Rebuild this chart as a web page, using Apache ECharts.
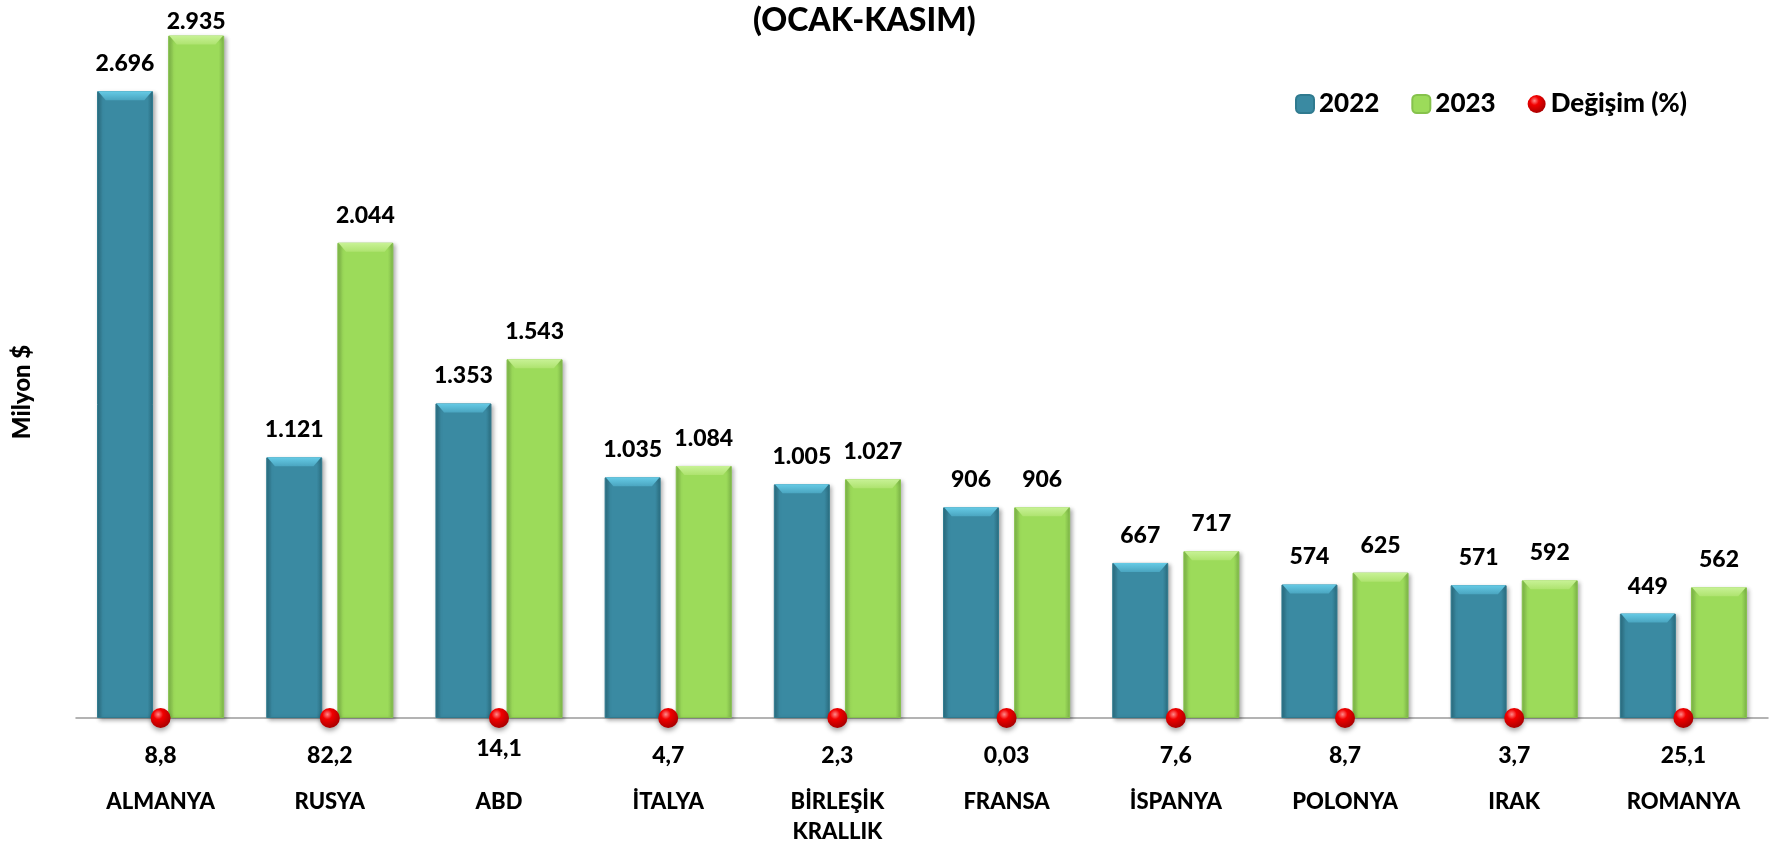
<!DOCTYPE html>
<html><head><meta charset="utf-8">
<script src="https://cdn.jsdelivr.net/npm/echarts@6/dist/echarts.min.js"></script>
<style>html,body{margin:0;padding:0;background:#fff}#c{width:1785px;height:848px}</style>
</head><body><div id="c"></div>
<script>
const categories = ['ALMANYA','RUSYA','ABD','İTALYA','BİRLEŞİK\nKRALLIK','FRANSA','İSPANYA','POLONYA','IRAK','ROMANYA'];
const values2022 = [2696,1121,1353,1035,1005,906,667,574,571,449];
const values2023 = [2935,2044,1543,1084,1027,906,717,625,592,562];
const changeLabels = ['8,8','82,2','14,1','4,7','2,3','0,03','7,6','8,7','3,7','25,1'];
const dotLevel = [0,0,0,0,0,0,0,0,0,0];
const seriesNames = ['2022','2023','Değişim (%)'];

const FONT = 'Lato';
const W = 900;
const fmt = v => String(v).replace(/\B(?=(\d{3})+(?!\d))/g, '.');

function barGrad(edge, base) {
  return new echarts.graphic.LinearGradient(0,0,1,0,[
    {offset:0,color:edge},{offset:0.1,color:base},{offset:0.9,color:base},{offset:1,color:edge}
  ]);
}
function vGrad(top, bottom) {
  return new echarts.graphic.LinearGradient(0,0,0,1,[{offset:0,color:top},{offset:1,color:bottom}]);
}
const dotColor = new echarts.graphic.RadialGradient(0.38,0.32,0.7,[
  {offset:0,color:'#ff8a8a'},{offset:0.35,color:'#f20000'},{offset:1,color:'#a80000'}
]);

const labelStyle = {show:true, position:'top', distance:16, fontFamily:FONT, fontWeight:W, fontSize:23, color:'#000', formatter:p=>fmt(p.value)};

function barItems(vals, shiftIdx, shiftDist) {
  return vals.map((v,i) => i === shiftIdx ? {value:v, label:{distance:shiftDist}} : v);
}
const bevelPath = 'path://M0,0 L56,0 L48,9 L8,9 Z';
function bevel(name, vals, color) {
  return {name:name, type:'pictorialBar', data:vals, barWidth:56, barGap:'27%', z:4,
    symbol:bevelPath, symbolSize:[54,9], symbolPosition:'end', symbolOffset:[0,0],
    itemStyle:{color:color}, label:{show:false}, silent:true};
}

const chart = echarts.init(document.getElementById('c'));
chart.setOption({
  animation:false,
  backgroundColor:'#fff',
  title:{text:'(OCAK-KASIM)', left:748, top:0, textStyle:{fontFamily:FONT, fontWeight:W, fontSize:32, color:'#000'}},
  legend:{
    data:seriesNames, left:1290, top:86, itemWidth:18, itemHeight:18, itemGap:32,
    textStyle:{fontFamily:FONT, fontWeight:W, fontSize:26, color:'#000'}
  },
  graphic:[{type:'text', x:22, y:392, rotation:Math.PI/2,
    style:{text:'Milyon $', x:0, y:0, align:'center', verticalAlign:'middle', fontFamily:FONT, fontWeight:W, fontSize:24, fill:'#000'}}],
  grid:{left:76, right:17, top:20.5, bottom:130},
  xAxis:{
    type:'category', data:categories,
    axisLine:{lineStyle:{color:'#9a9a9a', width:1.5}},
    axisTick:{show:false},
    axisLabel:{margin:69, lineHeight:30, fontFamily:FONT, fontWeight:W, fontSize:22, color:'#000', interval:0}
  },
  yAxis:{
    type:'value', min:0, max:3000,
    axisLine:{show:false}, axisTick:{show:false}, axisLabel:{show:false}, splitLine:{show:false}
  },
  series:[
    {name:seriesNames[0], type:'bar', data:values2022, barWidth:56, barGap:'27%',
     itemStyle:{color:barGrad('#2b6d80','#3a8aa2'), borderColor:'#2f7a8f', borderWidth:1, shadowColor:'rgba(0,0,0,0.3)', shadowBlur:4, shadowOffsetX:2, shadowOffsetY:2},
     label:labelStyle},
    {name:seriesNames[1], type:'bar', data:barItems(values2023, 0, 3), barWidth:56, barGap:'27%',
     itemStyle:{color:barGrad('#7db548','#9cdb5a'), borderColor:'#86c24c', borderWidth:1, shadowColor:'rgba(0,0,0,0.3)', shadowBlur:4, shadowOffsetX:2, shadowOffsetY:2},
     label:labelStyle},
    bevel('b2022', values2022, vGrad('#66cbe6','#4aa5c0')),
    bevel('b2023', values2023, vGrad('#c8f296','#aee36f')),
    {name:seriesNames[2], type:'scatter', data:dotLevel.map((v,i)=> i===2 ? {value:v, label:{distance:9}} : v),
     symbol:'circle', symbolSize:20, z:6,
     itemStyle:{color:dotColor, opacity:1, shadowColor:'rgba(0,0,0,0.35)', shadowBlur:5, shadowOffsetY:3},
     label:{show:true, position:'bottom', distance:16, fontFamily:FONT, fontWeight:W, fontSize:23, color:'#000',
       formatter:p=>changeLabels[p.dataIndex]}}
  ]
});
</script></body></html>
